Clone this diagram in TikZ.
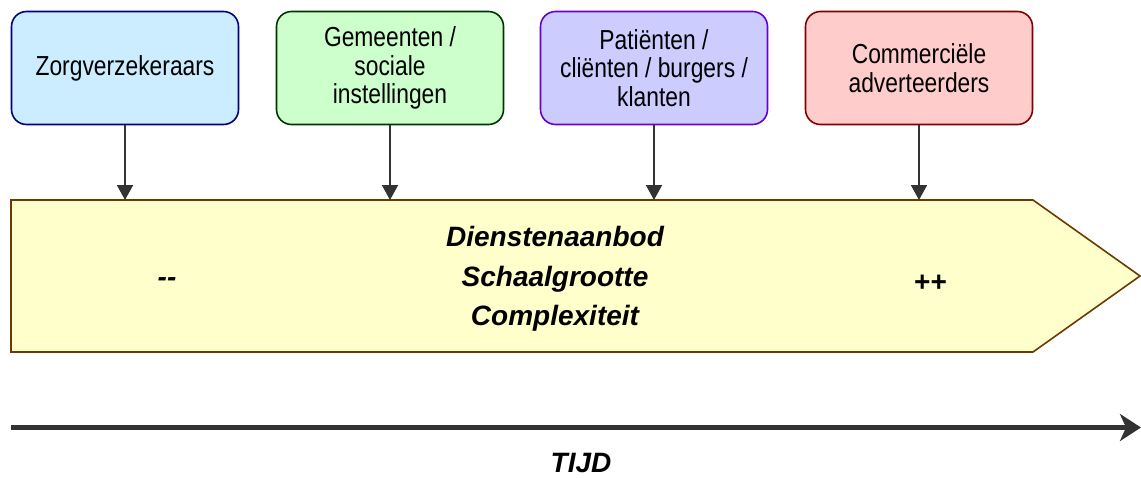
\documentclass[tikz,border=0pt]{standalone}
\usepackage{fontspec}
\setmainfont{Liberation Sans}
\newfontfamily\narrowfont[FakeStretch=0.83]{Liberation Sans}
\usetikzlibrary{arrows.meta}
\definecolor{fillA}{HTML}{CCECFF}\definecolor{drawA}{HTML}{000080}
\definecolor{fillB}{HTML}{CCFFCC}\definecolor{drawB}{HTML}{003300}
\definecolor{fillC}{HTML}{CCCCFF}\definecolor{drawC}{HTML}{6600CC}
\definecolor{fillD}{HTML}{FFCCCC}\definecolor{drawD}{HTML}{800000}
\definecolor{bandfill}{HTML}{FFFFCC}\definecolor{banddraw}{HTML}{6B3A00}
\definecolor{arrowgray}{HTML}{333333}
\tikzset{
  actor/.style={draw, line width=1.6pt, rounded corners=15pt, minimum width=227pt, minimum height=113pt,
    inner sep=0pt, align=center, font=\narrowfont\fontsize{27.5}{28.5}\selectfont},
  feed/.style={draw=arrowgray, line width=1.8pt, -{Triangle[length=15pt,width=16pt]}},
  bigtext/.style={font=\fontsize{28}{39.5}\selectfont\bfseries\itshape, align=center, inner sep=0pt},
}
\begin{document}
\begin{tikzpicture}[x=1pt,y=-1pt]
\useasboundingbox (0,0) rectangle (1141,477);
% actor boxes
\node[actor, fill=fillA, draw=drawA] (b1) at (125,68) {Zorgverzekeraars};
\node[actor, fill=fillB, draw=drawB] (b2) at (390,68) {Gemeenten /\\sociale\\instellingen};
\node[actor, fill=fillC, draw=drawC] (b3) at (654,68) {Patiënten /\\cliënten / burgers /\\klanten};
\node[actor, fill=fillD, draw=drawD] (b4) at (919,68) {Commerciële\\adverteerders};
% band
\draw[fill=bandfill, draw=banddraw, line width=1.6pt, line join=miter]
  (11,200) -- (1033,200) -- (1140,276) -- (1033,352) -- (11,352) -- cycle;
\coordinate (bandtop) at (11,200);
\node[bigtext] (band) at (555,279) {Dienstenaanbod\\Schaalgrootte\\Complexiteit};
\node[bigtext] (minus) at (167,282) {-{}-};
\node[bigtext] (plus) at (930,283) {++};
% feeds
\foreach \b in {b1,b2,b3,b4}
  \draw[feed] (\b.south) -- (\b.south |- bandtop);
% time axis
\coordinate (tstart) at (11,427.5);
\coordinate (tend) at (1141,427.5);
\draw[draw=arrowgray, line width=5pt, -{Stealth[length=21pt,width=27pt,inset=6pt]}] (tstart) -- (tend);
\node[bigtext] (tijd) at (581,463) {TIJD};
\end{tikzpicture}
\end{document}
